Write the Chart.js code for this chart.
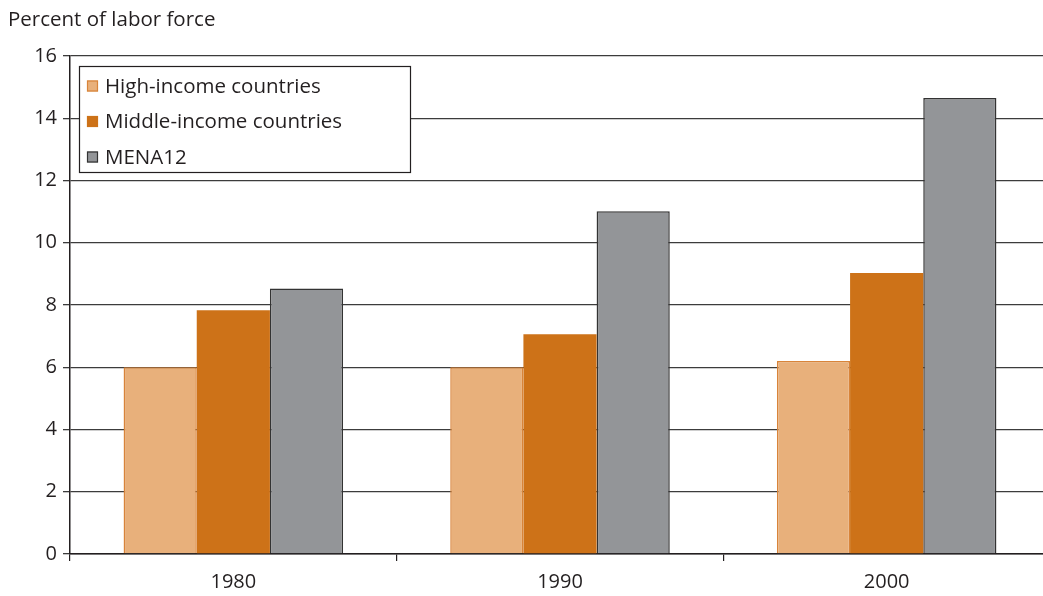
<!DOCTYPE html>
<html>
<head>
<meta charset="utf-8">
<script src="https://cdn.jsdelivr.net/npm/chart.js@4"></script>
<style>
  html, body { margin: 0; padding: 0; background: #fff; overflow: hidden; }
  #wrap { width: 1050px; height: 596px; }
</style>
</head>
<body>
<div id="wrap"><canvas id="c" width="1050" height="596"></canvas></div>
<script>
// Unemployment as share of labor force, by country group
const years = ['1980', '1990', '2000'];
const highIncome = [6.0, 6.0, 6.2];
const middleIncome = [7.83, 7.06, 9.03];
const mena12 = [8.53, 11.01, 14.65];
const seriesNames = ['High-income countries', 'Middle-income countries', 'MENA12'];
const yTicks = [0, 2, 4, 6, 8, 10, 12, 14, 16];

const FONT = '"Open Sans", "Noto Sans", sans-serif';
const INK = '#231f20';
const GRID = '#3c3c3c';

// Boxed legend drawn inside the plot area, top-left
const boxedLegend = {
  id: 'boxedLegend',
  afterDatasetsDraw(chart) {
    const ctx = chart.ctx;
    const x0 = 79, y0 = 66, w = 331, h = 106;
    ctx.save();
    ctx.fillStyle = '#fff';
    ctx.fillRect(x0, y0, w, h);
    ctx.strokeStyle = INK;
    ctx.lineWidth = 1.2;
    ctx.strokeRect(x0 + 0.5, y0 + 0.5, w, h);
    ctx.font = '20.5px ' + FONT;
    ctx.textBaseline = 'middle';
    ctx.textAlign = 'left';
    chart.data.datasets.forEach((ds, i) => {
      const cy = y0 + 20 + i * 35.5;
      ctx.fillStyle = ds.backgroundColor;
      ctx.fillRect(87, cy - 5.5, 11, 11);
      ctx.strokeStyle = ds.borderColor;
      ctx.lineWidth = 1.2;
      ctx.strokeRect(87.5, cy - 5, 10, 10);
      ctx.fillStyle = INK;
      ctx.fillText(ds.label, 105, cy + 1);
    });
    ctx.restore();
  }
};

new Chart(document.getElementById('c'), {
  type: 'bar',
  data: {
    labels: years,
    datasets: [
      { label: seriesNames[0], data: highIncome, backgroundColor: '#e8b07b', borderColor: '#d8843a', borderWidth: 1.5 },
      { label: seriesNames[1], data: middleIncome, backgroundColor: '#cd7218', borderColor: '#cd7218', borderWidth: 0 },
      { label: seriesNames[2], data: mena12, backgroundColor: '#939598', borderColor: '#333333', borderWidth: 1.5 }
    ]
  },
  options: {
    responsive: false,
    animation: false,
    layout: { padding: { left: 8, right: 0, top: 0, bottom: 0 } },
    datasets: { bar: { categoryPercentage: 0.672, barPercentage: 1.0, borderSkipped: 'bottom' } },
    plugins: {
      legend: { display: false },
      tooltip: { enabled: false },
      title: {
        display: true,
        text: 'Percent of labor force',
        align: 'start',
        color: INK,
        font: { family: FONT, size: 20.5, weight: 'normal', lineHeight: 1.2 },
        padding: { top: 8, bottom: 23.4 }
      }
    },
    scales: {
      x: {
        offset: true,
        grid: { display: true, drawOnChartArea: false, offset: true, tickLength: 7, color: INK, lineWidth: 1.2 },
        border: { display: true, color: INK, width: 1.5 },
        ticks: { color: INK, font: { family: FONT, size: 20 }, padding: 9 },
        afterFit(scale) { scale.height = 42; }
      },
      y: {
        min: 0,
        max: 16,
        afterBuildTicks(scale) { scale.ticks = yTicks.map(v => ({ value: v })); },
        grid: { color: GRID, lineWidth: 1.3, tickLength: 7 },
        border: { display: true, color: INK, width: 1.5 },
        ticks: { color: INK, font: { family: FONT, size: 20 }, padding: 6 },
        afterFit(scale) { scale.width = 62; }
      }
    }
  },
  plugins: [boxedLegend]
});
</script>
</body>
</html>
